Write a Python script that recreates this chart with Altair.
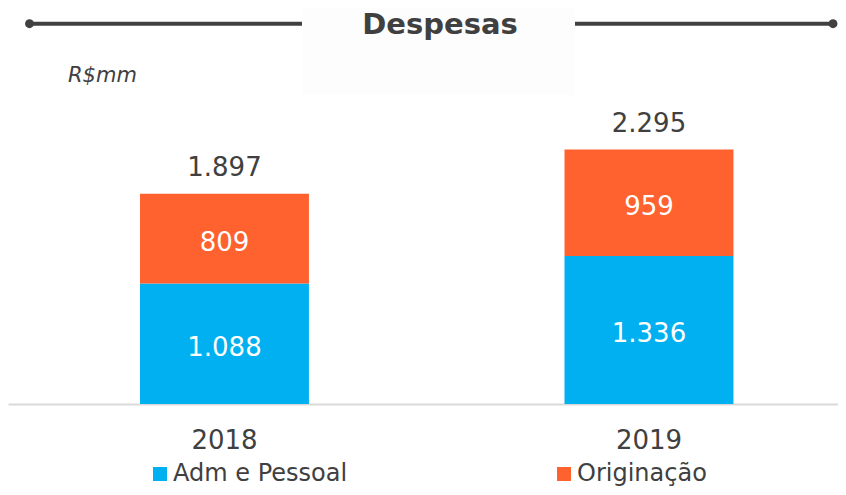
import altair as alt
import pandas as pd

# ---- data ----
years = ["2018", "2019"]
series = ["Adm e Pessoal", "Originação"]
adm = [1088, 1336]
orig = [809, 959]
colors = ["#00B0F0", "#FF612F"]

FONT = "DejaVu Sans"
DARK = "#404040"


def br(v):
    return f"{v:,}".replace(",", ".")


rows = []
for i, yr in enumerate(years):
    base = 0
    for k, (s, vals) in enumerate(zip(series, [adm, orig])):
        v = vals[i]
        rows.append({"year": yr, "series": s, "order": k, "value": v,
                     "y0": base, "y1": base + v, "mid": base + v / 2,
                     "label": br(v)})
        base += v
df = pd.DataFrame(rows)
tot = pd.DataFrame({"year": years, "total": [a + b for a, b in zip(adm, orig)]})
tot["label"] = tot["total"].map(br)

xenc = alt.X("year:N",
             scale=alt.Scale(domain=years, paddingInner=0.602, paddingOuter=0.2786, align=0.558),
             axis=alt.Axis(title=None, labelAngle=0, ticks=False, tickSize=0, grid=False,
                           domain=True, domainColor="#D9D9D9", domainWidth=2,
                           labelFont=FONT, labelFontSize=26, labelColor=DARK,
                           labelBaseline="alphabetic", labelPadding=44))
yscale = alt.Scale(domain=[0, 2490], nice=False, zero=True)

bars = alt.Chart(df).mark_bar().encode(
    x=xenc,
    y=alt.Y("y0:Q", scale=yscale, axis=None),
    y2="y1:Q",
    color=alt.Color("series:N",
                    scale=alt.Scale(domain=series, range=colors),
                    legend=alt.Legend(orient="none", legendX=140, legendY=334,
                                      direction="horizontal", columns=2, columnPadding=204,
                                      symbolType="square", symbolSize=196, symbolStrokeWidth=0,
                                      symbolOpacity=1, labelFont=FONT, labelFontSize=24,
                                      labelColor=DARK, labelOffset=1, labelLimit=0,
                                      title=None, padding=0)),
)

inner = alt.Chart(df).mark_text(color="white", font=FONT, fontSize=26,
                                baseline="alphabetic", dy=12.5).encode(
    x=xenc, y=alt.Y("mid:Q", scale=yscale, axis=None), text="label:N")

totals = alt.Chart(tot).mark_text(color=DARK, font=FONT, fontSize=26,
                                  baseline="alphabetic", dy=-17.5).encode(
    x=xenc, y=alt.Y("total:Q", scale=yscale, axis=None), text="label:N")

one = pd.DataFrame({"a": [0]})
bgbox = alt.Chart(one).mark_rect(color="#FDFDFD").encode(
    x=alt.value(295), x2=alt.value(567), y=alt.value(-120), y2=alt.value(-33))
title = alt.Chart(one).mark_text(text="Despesas", font=FONT, fontSize=29, fontWeight="bold",
                                 color=DARK, align="center", baseline="alphabetic").encode(
    x=alt.value(432), y=alt.value(-94))
unit = alt.Chart(one).mark_text(text="R$mm", font=FONT, fontSize=21, fontStyle="italic",
                                color=DARK, align="left", baseline="alphabetic").encode(
    x=alt.value(60), y=alt.value(-45.7))
lrule = alt.Chart(one).mark_rule(color=DARK, strokeWidth=4).encode(
    x=alt.value(22), x2=alt.value(294), y=alt.value(-104.3))
rrule = alt.Chart(one).mark_rule(color=DARK, strokeWidth=4).encode(
    x=alt.value(567), x2=alt.value(825), y=alt.value(-104.3))
ldot = alt.Chart(one).mark_circle(color=DARK, size=80, opacity=1).encode(
    x=alt.value(21.5), y=alt.value(-104.3))
rdot = alt.Chart(one).mark_circle(color=DARK, size=80, opacity=1).encode(
    x=alt.value(825), y=alt.value(-104.3))

chart = alt.layer(bgbox, bars, inner, totals, title, unit, lrule, rrule, ldot, rdot).properties(
    width=830, height=276,
    padding={"left": 0, "top": 120, "right": 0, "bottom": 83},
    autosize=alt.AutoSizeParams(type="none"),
    background="white",
).configure_view(stroke=None)

chart.save("out.html", embed_options={"renderer": "svg", "actions": False})
